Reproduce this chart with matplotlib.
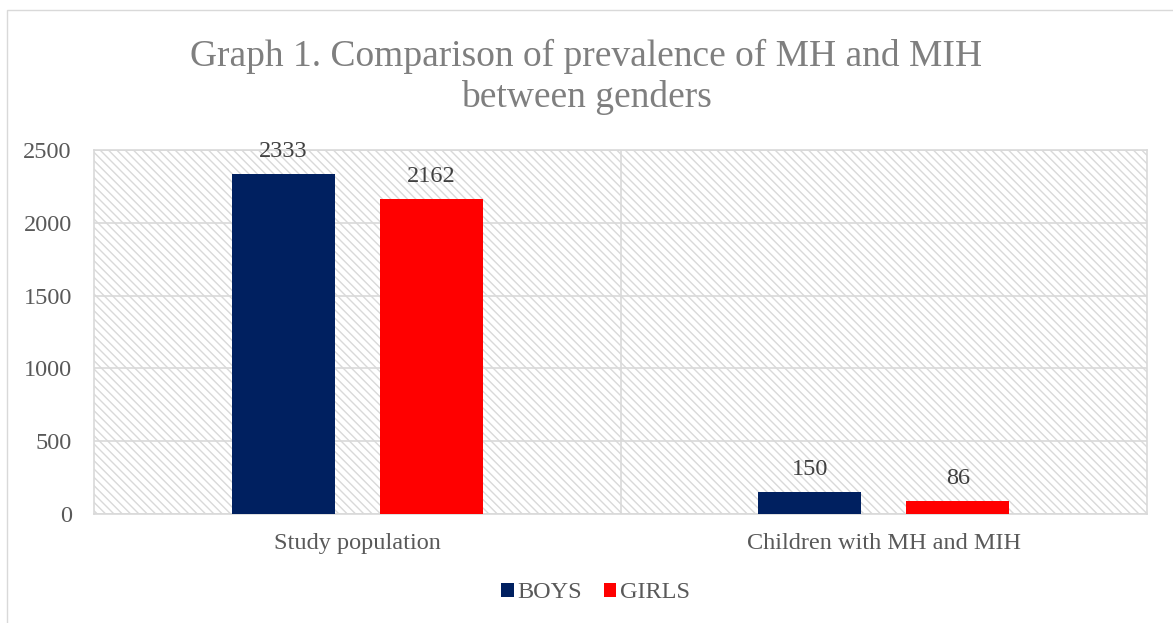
import numpy as np
import matplotlib.pyplot as plt
from matplotlib.patches import Rectangle

plt.rcParams['font.family'] = ['Liberation Serif', 'DejaVu Serif']
plt.rcParams['hatch.color'] = '#d9d9d9'
plt.rcParams['hatch.linewidth'] = 1.0

# data
categories = ["Study population", "Children with MH and MIH"]
boys = [2333, 150]
girls = [2162, 86]
series_names = ["BOYS", "GIRLS"]
colors = ["#002060", "#FF0000"]

fig = plt.figure(figsize=(11.73, 6.23), dpi=100)
ax = fig.add_axes([94 / 1173, 1 - 514 / 623, (1147 - 94) / 1173, (514 - 150) / 623])

# chart border
fig.patches.append(Rectangle((7 / 1173, -0.1), 1.2, 1 - 10 / 623 + 0.1, transform=fig.transFigure,
                             fill=False, edgecolor='#d9d9d9', linewidth=1.0))

# hatched plot area
ax.add_patch(Rectangle((0, 0), 1, 1, transform=ax.transAxes, facecolor='white',
                       edgecolor='#d9d9d9', hatch='\\\\\\\\', linewidth=0, zorder=0))

x = np.arange(len(categories))
w = 0.196
off = 0.1407
b1 = ax.bar(x - off, boys, w, color=colors[0], label=series_names[0], zorder=3)
b2 = ax.bar(x + off, girls, w, color=colors[1], label=series_names[1], zorder=3)

for bars, vals in [(b1, boys), (b2, girls)]:
    for r, v in zip(bars, vals):
        ax.annotate(str(v), (r.get_x() + r.get_width() / 2, v), xytext=(0, 9),
                    textcoords='offset points', ha='center', va='bottom',
                    fontsize=17.5, color='#404040', zorder=4)

ax.set_xlim(-0.5, 1.5)
ax.set_ylim(0, 2500)
ax.set_yticks(np.arange(0, 2501, 500))
ax.set_xticks(x)
ax.set_xticklabels(categories, fontsize=17.5, color='#595959')
ax.tick_params(axis='y', labelsize=17.5, labelcolor='#595959', length=0, pad=16)
ax.tick_params(axis='x', length=0, pad=14)
ax.yaxis.grid(True, color='#d9d9d9', linewidth=1.2, zorder=1)
ax.axvline(0.5, color='#d9d9d9', linewidth=1.2, zorder=1)
ax.set_axisbelow(True)
for s in ax.spines.values():
    s.set_color('#d9d9d9')
    s.set_linewidth(1.2)
ax.patch.set_alpha(0)

fig.text(0.5, 1 - 77 / 623, "Graph 1. Comparison of prevalence of MH and MIH\nbetween genders",
         ha='center', va='center', fontsize=27, color='#7f7f7f', linespacing=1.22)

fig.legend(loc='center', bbox_to_anchor=(0.5 + 9 / 1173, 1 - 593 / 623), ncol=2, frameon=False,
           fontsize=17.5, handlelength=0.5, handleheight=0.5, handletextpad=0.15,
           columnspacing=0.9, labelcolor='#595959')

fig.savefig("out.png", dpi=100)
